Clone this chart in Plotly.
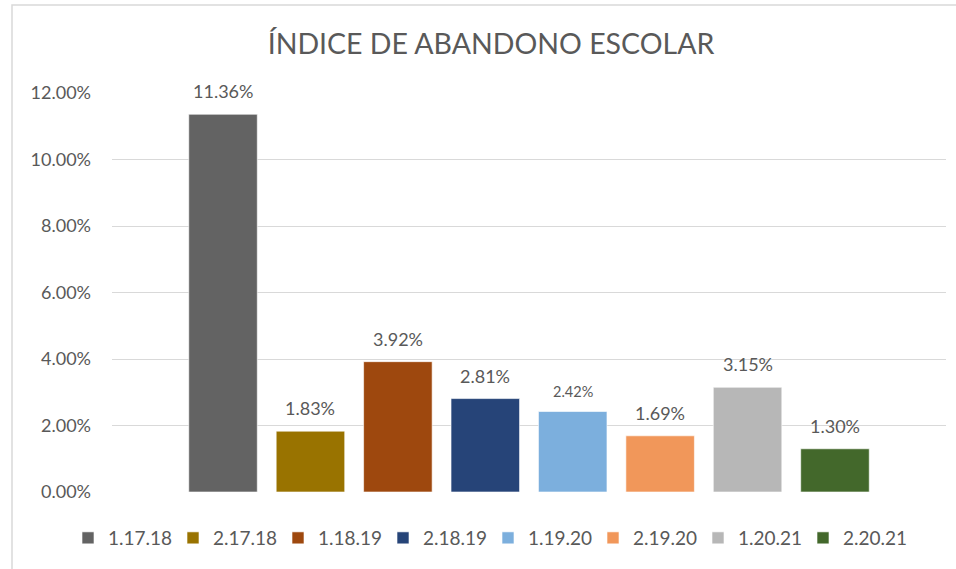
import plotly.graph_objects as go

title_text = "ÍNDICE DE ABANDONO ESCOLAR"
series_names = ["1.17.18", "2.17.18", "1.18.19", "2.18.19", "1.19.20", "2.19.20", "1.20.21", "2.20.21"]
values = [11.36, 1.83, 3.92, 2.81, 2.42, 1.69, 3.15, 1.30]
colors = ["#636363", "#997300", "#9E480E", "#264478", "#7CAFDD", "#F1975A", "#B7B7B7", "#43682B"]
label_sizes = [18, 18, 18, 18, 14.5, 18, 18, 18]
y_ticks = [0, 2, 4, 6, 8, 10, 12]
y_tick_labels = ["0.00%", "2.00%", "4.00%", "6.00%", "8.00%", "10.00%", "12.00%"]

FONT = "Lato"
GRAY = "#595959"

fig = go.Figure()
for i, (name, v, c) in enumerate(zip(series_names, values, colors)):
    fig.add_trace(go.Bar(
        x=[i], y=[v], name=name, width=0.784,
        marker=dict(color=c, line=dict(color="rgba(255,255,255,0.6)", width=1)),
        hoverinfo="name+y",
    ))
    fig.add_annotation(
        x=i, y=v, xref="x", yref="y", text=f"{v:.2f}%", showarrow=False,
        yanchor="bottom", yshift=10,
        font=dict(family=FONT, size=label_sizes[i], color=GRAY),
    )

fig.update_layout(
    width=956, height=569,
    margin=dict(l=112, r=10, t=93, b=77, autoexpand=False),
    paper_bgcolor="white", plot_bgcolor="white",
    barmode="overlay",
    title=dict(text=title_text, x=491/956, xanchor="center", y=1 - 44/569, yanchor="middle",
               font=dict(family=FONT, size=28.5, color=GRAY)),
    xaxis=dict(range=[-1.27, 8.27], showticklabels=False, showgrid=False, zeroline=False,
               showline=False, ticks=""),
    yaxis=dict(range=[0, 12], tickvals=y_ticks, ticktext=y_tick_labels,
               showgrid=True, gridcolor="#D9D9D9", gridwidth=1, zeroline=False,
               showline=False, ticks="", ticklabelstandoff=20,
               tickfont=dict(family=FONT, size=18, color=GRAY)),
    legend=dict(orientation="h", x=(68 - 112) / 834, xanchor="left", y=-(519 - 492) / 399,
                yanchor="top", entrywidth=60, entrywidthmode="pixels",
                font=dict(family=FONT, size=19, color=GRAY), traceorder="normal",
                bgcolor="rgba(0,0,0,0)"),
    showlegend=True,
    shapes=[dict(type="rect", xref="paper", yref="paper",
                 x0=(12 - 112) / 834, x1=1.5, y0=-0.5, y1=1 + (93 - 5) / 399,
                 line=dict(color="#D9D9D9", width=1.5), layer="below")],
)

fig.write_html("out.html", config={"displayModeBar": False},
               post_script="document.body.style.margin='0';document.body.style.overflow='hidden';")
